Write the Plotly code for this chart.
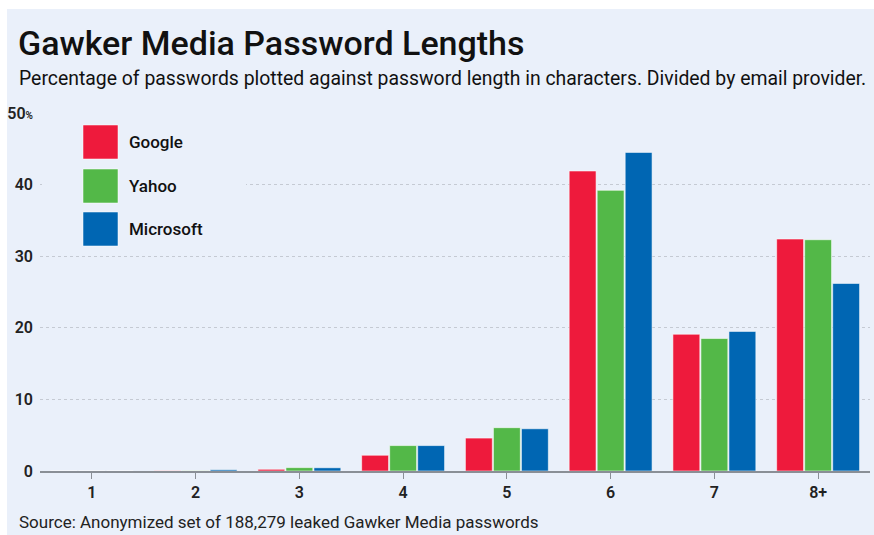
import plotly.graph_objects as go

# ---- data ----
lengths = ["1", "2", "3", "4", "5", "6", "7", "8+"]
google = [0.0, 0.03, 0.24, 2.2, 4.6, 41.9, 19.1, 32.4]
yahoo = [0.0, 0.03, 0.47, 3.55, 6.05, 39.2, 18.5, 32.3]
microsoft = [0.0, 0.18, 0.45, 3.55, 5.9, 44.5, 19.5, 26.2]
series_names = ["Google", "Yahoo", "Microsoft"]
series_colors = ["#ee1a3c", "#53b848", "#0066b3"]
y_tickvals = [0, 10, 20, 30, 40, 50]
y_ticktext = ["0", "10", "20", "30", "40", "50<span style='font-size:10px'>%</span>"]

title = "Gawker Media Password Lengths"
subtitle = "Percentage of passwords plotted against password length in characters. Divided by email provider."
source = "Source: Anonymized set of 188,279 leaked Gawker Media passwords"

W, H = 874, 535
L, R, T, B = 40, 870, 113, 471  # plot area in pixels
BG = "#eaf0fa"
FONT = "Roboto, sans-serif"


def px(x):
    return (x - L) / (R - L)


def py(y):
    return (B - y) / (B - T)


fig = go.Figure()
for name, vals, col in zip(series_names, [google, yahoo, microsoft], series_colors):
    fig.add_trace(go.Bar(x=lengths, y=vals, name=name, marker_color=col,
                         marker_line=dict(color="rgba(255,255,255,0.55)", width=1),
                         showlegend=False))

shapes = [
    dict(type="rect", xref="paper", yref="paper", x0=px(7), x1=px(874), y0=py(535), y1=py(9),
         fillcolor=BG, line=dict(width=0), layer="below"),
]
annotations = [
    dict(text=title, x=px(16), y=py(43), xref="paper", yref="paper", xanchor="left", yanchor="middle",
         showarrow=False, font=dict(family=FONT, size=34, weight=500, color="#111111")),
    dict(text=subtitle, x=px(17), y=py(78), xref="paper", yref="paper", xanchor="left", yanchor="middle",
         showarrow=False, font=dict(family=FONT, size=19.4, color="#111111")),
    dict(text=source, x=px(17), y=py(522), xref="paper", yref="paper", xanchor="left", yanchor="middle",
         showarrow=False, font=dict(family=FONT, size=17, color="#222222")),
]
shapes.append(dict(type="rect", xref="paper", yref="paper", x0=px(42), x1=px(246), y0=py(250), y1=py(118),
                   fillcolor=BG, line=dict(width=0), layer="above"))
leg_tops = [125, 169, 212]
for name, col, top in zip(series_names, series_colors, leg_tops):
    shapes.append(dict(type="rect", xref="paper", yref="paper", x0=px(83), x1=px(118),
                       y0=py(top + 34), y1=py(top), fillcolor=col,
                       line=dict(color="rgba(255,255,255,0.5)", width=1), layer="above"))
    annotations.append(dict(text=name, x=px(127), y=py(top + 17), xref="paper", yref="paper",
                            xanchor="left", yanchor="middle", showarrow=False,
                            font=dict(family=FONT, size=17, weight=500, color="#111111")))

fig.update_layout(
    width=W, height=H,
    margin=dict(l=L, r=W - R, t=T, b=H - B),
    paper_bgcolor="white",
    plot_bgcolor="rgba(0,0,0,0)",
    barmode="group",
    bargap=0.19,
    bargroupgap=0.04,
    shapes=shapes,
    annotations=annotations,
    showlegend=False,
    xaxis=dict(type="category", showgrid=False, showline=True, linecolor="#8a8f96", linewidth=1.5,
               ticks="outside", ticklen=6, tickcolor="#8a8f96", tickwidth=1,
               tickfont=dict(family=FONT, size=16, weight=600, color="#222222"), zeroline=False),
    yaxis=dict(range=[0, 50], tickvals=y_tickvals, ticktext=y_ticktext, showgrid=True,
               gridcolor="#c5cad3", griddash="dot", gridwidth=1, zeroline=False,
               ticks="", ticklabelstandoff=6,
               tickfont=dict(family=FONT, size=16, weight=600, color="#222222")),
    font=dict(family=FONT),
)

fig.write_html("out.html")
